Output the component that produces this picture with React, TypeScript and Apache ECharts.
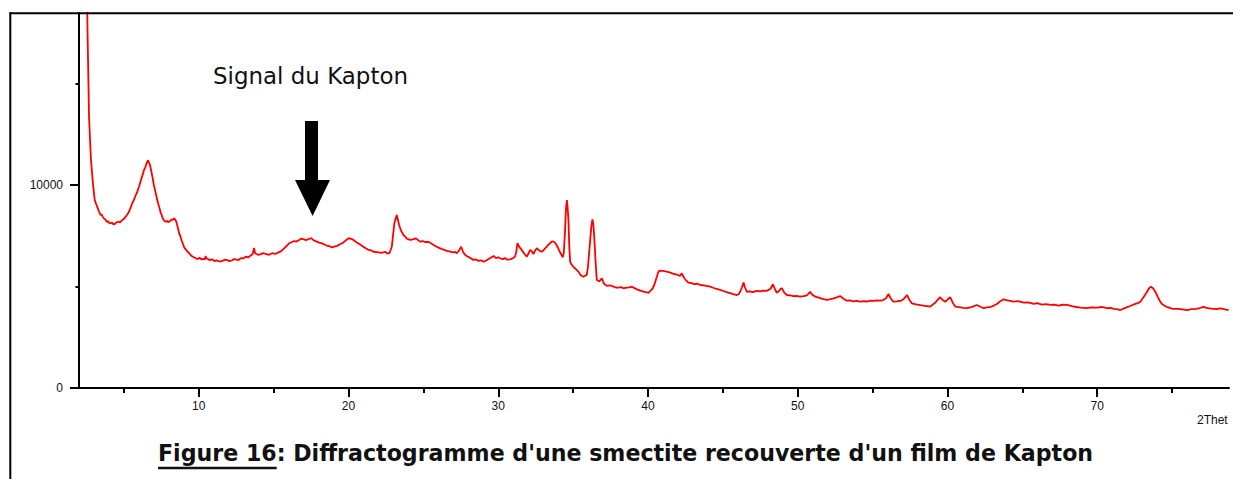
import React, { useEffect, useRef } from "react";
import * as echarts from "echarts";

// [2θ (degrees), intensity (counts)]
const diffractogram: [number, number][] = [
  [2.52, 20000], [2.58, 17140], [2.67, 13350], [2.8, 11230], [2.92, 10150], [3.05, 9260], [3.15, 9050], [3.22, 8920], [3.34, 8690], [3.45, 8520],
  [3.52, 8540], [3.6, 8410], [3.7, 8330], [3.78, 8280], [3.87, 8180], [3.95, 8220], [4.03, 8110], [4.1, 8120], [4.22, 8140], [4.3, 8060],
  [4.4, 8080], [4.48, 8150], [4.55, 8170], [4.67, 8190], [4.75, 8160], [4.85, 8250], [5.0, 8330], [5.12, 8440], [5.2, 8520], [5.3, 8630],
  [5.45, 8880], [5.56, 9110], [5.65, 9230], [5.75, 9420], [5.88, 9650], [6.01, 9920], [6.1, 10150], [6.18, 10350], [6.26, 10520], [6.34, 10740],
  [6.42, 10850], [6.48, 11000], [6.56, 11150], [6.62, 11220], [6.68, 11080], [6.73, 11020], [6.78, 10850], [6.84, 10640], [6.9, 10410], [7.0, 10000],
  [7.12, 9610], [7.2, 9330], [7.3, 9050], [7.38, 8850], [7.46, 8620], [7.52, 8520], [7.6, 8350], [7.7, 8240], [7.79, 8190], [7.9, 8230],
  [7.95, 8160], [8.01, 8190], [8.1, 8240], [8.2, 8300], [8.28, 8280], [8.35, 8360], [8.42, 8310], [8.5, 8190], [8.6, 7900], [8.68, 7640],
  [8.77, 7480], [8.85, 7280], [8.93, 7120], [9.01, 6960], [9.1, 6850], [9.18, 6780], [9.27, 6690], [9.35, 6640], [9.45, 6560], [9.55, 6480],
  [9.68, 6440], [9.8, 6390], [9.92, 6350], [10.05, 6420], [10.18, 6330], [10.3, 6360], [10.4, 6330], [10.46, 6500], [10.5, 6400], [10.55, 6370],
  [10.75, 6300], [10.9, 6340], [11.05, 6250], [11.2, 6290], [11.4, 6230], [11.57, 6260], [11.75, 6320], [11.9, 6300], [12.05, 6250], [12.2, 6280],
  [12.35, 6350], [12.47, 6340], [12.65, 6300], [12.8, 6400], [12.95, 6380], [13.14, 6470], [13.3, 6430], [13.45, 6520], [13.55, 6560], [13.62, 6650],
  [13.69, 6900], [13.76, 6640], [13.95, 6560], [14.1, 6580], [14.3, 6640], [14.47, 6600], [14.7, 6560], [14.9, 6640], [15.1, 6600], [15.36, 6690],
  [15.5, 6740], [15.7, 6880], [15.85, 6980], [16.03, 7130], [16.2, 7180], [16.35, 7240], [16.5, 7210], [16.7, 7290], [16.85, 7360], [17.0, 7330],
  [17.15, 7280], [17.36, 7340], [17.5, 7380], [17.7, 7260], [17.85, 7220], [18.03, 7160], [18.25, 7120], [18.5, 7030], [18.7, 6990], [18.92, 6930],
  [19.1, 6970], [19.25, 7000], [19.42, 7080], [19.59, 7130], [19.72, 7210], [19.85, 7290], [20.04, 7390], [20.15, 7340], [20.25, 7330], [20.38, 7260],
  [20.5, 7190], [20.75, 7080], [20.99, 6960], [21.15, 6880], [21.3, 6820], [21.5, 6780], [21.66, 6710], [21.9, 6690], [22.2, 6660], [22.45, 6700],
  [22.6, 6620], [22.73, 6640], [22.89, 6960], [23.06, 8110], [23.22, 8520], [23.38, 8030], [23.5, 7760], [23.66, 7540], [23.8, 7440], [23.9, 7350],
  [24.0, 7330], [24.11, 7290], [24.3, 7320], [24.51, 7370], [24.65, 7280], [24.78, 7210], [24.95, 7240], [25.1, 7190], [25.3, 7200], [25.45, 7160],
  [25.65, 7060], [25.89, 6960], [26.05, 6900], [26.2, 6850], [26.4, 6800], [26.56, 6750], [26.8, 6720], [27.0, 6680], [27.12, 6700], [27.23, 6640],
  [27.4, 6800], [27.52, 6960], [27.65, 6700], [27.79, 6550], [27.95, 6480], [28.1, 6420], [28.34, 6310], [28.5, 6330], [28.7, 6260], [28.85, 6290],
  [29.01, 6220], [29.2, 6280], [29.35, 6350], [29.5, 6420], [29.68, 6500], [29.85, 6400], [30.0, 6440], [30.12, 6390], [30.3, 6350], [30.45, 6400],
  [30.6, 6320], [30.79, 6340], [30.95, 6380], [31.12, 6470], [31.2, 6700], [31.28, 7130], [31.4, 6950], [31.57, 6800], [31.75, 6600], [31.91, 6470],
  [32.0, 6600], [32.13, 6800], [32.25, 6720], [32.35, 6600], [32.45, 6750], [32.57, 6880], [32.7, 6800], [32.8, 6740], [32.91, 6710], [33.05, 6820],
  [33.24, 6960], [33.35, 7060], [33.45, 7120], [33.55, 7200], [33.64, 7230], [33.72, 7200], [33.8, 7150], [33.88, 7050], [33.95, 6960], [34.05, 6800],
  [34.15, 6650], [34.25, 6520], [34.31, 6440], [34.38, 6700], [34.46, 7780], [34.52, 8800], [34.58, 9260], [34.63, 8900], [34.69, 8230], [34.74, 7000],
  [34.8, 6220], [34.9, 6080], [35.0, 5980], [35.12, 5900], [35.25, 5810], [35.38, 5700], [35.5, 5560], [35.6, 5520], [35.69, 5480], [35.8, 5530],
  [35.91, 5570], [35.98, 5900], [36.05, 6500], [36.14, 7290], [36.22, 8000], [36.29, 8310], [36.35, 8050], [36.4, 7540], [36.45, 6900], [36.5, 6200],
  [36.58, 5320], [36.66, 5280], [36.75, 5250], [36.84, 5330], [36.92, 5400], [37.0, 5240], [37.05, 5150], [37.15, 5080], [37.25, 5030], [37.45, 5060],
  [37.69, 4990], [37.85, 4950], [38.0, 4940], [38.2, 4970], [38.36, 4910], [38.55, 4940], [38.75, 4960], [38.92, 4990], [39.1, 4920], [39.26, 4860],
  [39.5, 4800], [39.7, 4750], [39.85, 4720], [40.03, 4690], [40.15, 4780], [40.32, 4910], [40.45, 5150], [40.59, 5480], [40.68, 5700], [40.76, 5780],
  [41.0, 5770], [41.25, 5730], [41.5, 5680], [41.7, 5620], [41.9, 5590], [42.14, 5520], [42.2, 5600], [42.26, 5650], [42.35, 5500], [42.45, 5380],
  [42.58, 5270], [42.7, 5190], [42.9, 5170], [43.1, 5120], [43.3, 5140], [43.48, 5070], [43.7, 5060], [43.9, 5030], [44.15, 4990], [44.3, 4950],
  [44.5, 4900], [44.65, 4870], [44.82, 4830], [45.0, 4790], [45.2, 4730], [45.35, 4700], [45.49, 4670], [45.7, 4620], [45.93, 4580], [46.05, 4620],
  [46.15, 4740], [46.27, 4950], [46.38, 5190], [46.48, 4950], [46.6, 4740], [46.8, 4760], [47.0, 4720], [47.27, 4780], [47.5, 4760], [47.7, 4800],
  [47.9, 4780], [48.05, 4830], [48.2, 4900], [48.34, 5110], [48.47, 4880], [48.6, 4690], [48.75, 4780], [48.85, 4880], [48.94, 4910], [49.1, 4700],
  [49.27, 4580], [49.5, 4560], [49.7, 4530], [49.9, 4540], [50.16, 4500], [50.4, 4520], [50.6, 4560], [50.72, 4650], [50.83, 4740], [50.95, 4600],
  [51.17, 4500], [51.4, 4450], [51.6, 4400], [51.94, 4340], [52.2, 4380], [52.4, 4420], [52.6, 4460], [52.83, 4530], [53.05, 4400], [53.28, 4300],
  [53.5, 4320], [53.7, 4270], [53.95, 4290], [54.17, 4250], [54.4, 4280], [54.6, 4260], [54.85, 4300], [55.06, 4290], [55.3, 4310], [55.5, 4300],
  [55.7, 4330], [55.9, 4420], [56.06, 4630], [56.2, 4420], [56.39, 4250], [56.6, 4270], [56.9, 4300], [57.1, 4400], [57.29, 4580], [57.45, 4350],
  [57.62, 4170], [57.9, 4120], [58.2, 4080], [58.5, 4050], [58.85, 4010], [59.0, 4100], [59.18, 4200], [59.35, 4350], [59.51, 4470], [59.68, 4330],
  [59.85, 4250], [60.0, 4350], [60.18, 4470], [60.35, 4200], [60.52, 4010], [60.8, 3980], [61.05, 3950], [61.3, 3930], [61.6, 3980], [61.96, 4090],
  [62.2, 4000], [62.41, 3930], [62.65, 3970], [62.9, 4000], [63.1, 4060], [63.3, 4140], [63.5, 4260], [63.75, 4370], [64.0, 4320], [64.2, 4290],
  [64.41, 4250], [64.7, 4280], [65.1, 4200], [65.4, 4220], [65.75, 4140], [66.0, 4180], [66.3, 4110], [66.6, 4130], [66.86, 4090], [67.15, 4110],
  [67.4, 4060], [67.7, 4100], [67.98, 4090], [68.3, 4030], [68.6, 3990], [68.9, 3960], [69.31, 3930], [69.6, 3970], [70.0, 3960], [70.3, 3990],
  [70.65, 3930], [70.9, 3950], [71.1, 3900], [71.3, 3880], [71.54, 3840], [71.8, 3920], [72.0, 3980], [72.21, 4040], [72.5, 4130], [72.7, 4180],
  [72.88, 4250], [73.1, 4480], [73.33, 4740], [73.45, 4900], [73.59, 4990], [73.72, 4920], [73.88, 4740], [74.05, 4480], [74.21, 4250], [74.35, 4120],
  [74.5, 4050], [74.7, 3980], [74.88, 3930], [75.1, 3900], [75.4, 3900], [75.7, 3870], [75.99, 3840], [76.3, 3880], [76.6, 3900], [76.85, 3940],
  [77.1, 4000], [77.3, 3950], [77.5, 3920], [77.75, 3900], [77.99, 3880], [78.2, 3920], [78.4, 3900], [78.6, 3860], [78.77, 3840],
];

const xMajorTicks = [10, 20, 30, 40, 50, 60, 70];
const xMinorTicks = [5, 15, 25, 35, 45, 55, 65, 75];
const yMajorTicks = [0, 10000];
const yMinorTicks = [5000, 15000];
const xAxisName = "2Thet";
const annotationText = "Signal du Kapton";
const captionLead = "Figure 16";
const captionRest = ": Diffractogramme d'une smectite recouverte d'un film de Kapton";

function measure(text: string, font: string): number {
  const ctx = document.createElement("canvas").getContext("2d");
  if (!ctx) return text.length * 10;
  ctx.font = font;
  return ctx.measureText(text).width;
}

export default function App() {
  const ref = useRef<HTMLDivElement>(null);

  useEffect(() => {
    if (!ref.current) return;
    const chart = echarts.init(ref.current, null, { renderer: "svg" });

    const fam = '"DejaVu Sans", sans-serif';
    const annLeft = 213, annRight = 408;
    const annSize = 20 * (annRight - annLeft) / measure(annotationText, `20px ${fam}`);
    const capLeft = 158, capRight = 1094;
    const capFull = captionLead + captionRest;
    const capSize = 20 * (capRight - capLeft) / measure(capFull, `bold 20px ${fam}`);
    const leadW = measure(captionLead, `bold ${capSize}px ${fam}`);

    const labelFont = { fontFamily: '"Liberation Sans", Arial, sans-serif', fontSize: 12, color: "#111" };

    chart.setOption({
      animation: false,
      backgroundColor: "#fff",
      grid: { left: 79, top: 13, width: 1150, height: 375, containLabel: false },
      xAxis: [
        {
          type: "value", min: 2, max: 78.8, position: "bottom",
          axisLine: { show: true, onZero: false, lineStyle: { color: "#000", width: 2 } },
          axisTick: { show: true, customValues: xMajorTicks, length: 9, lineStyle: { color: "#000", width: 2 } },
          axisLabel: { show: true, customValues: xMajorTicks, margin: 12, formatter: (v: number) => String(v), ...labelFont },
          splitLine: { show: false },
        },
        {
          type: "value", min: 2, max: 78.8, position: "bottom",
          axisLine: { show: false, onZero: false },
          axisTick: { show: true, customValues: xMinorTicks, length: 5, lineStyle: { color: "#000", width: 2 } },
          axisLabel: { show: false },
          splitLine: { show: false },
        },
      ],
      yAxis: [
        {
          type: "value", min: 0, max: 18470, position: "left",
          axisLine: { show: true, onZero: false, lineStyle: { color: "#000", width: 2 } },
          axisTick: { show: true, customValues: yMajorTicks, length: 9, lineStyle: { color: "#000", width: 2 } },
          axisLabel: { show: true, customValues: yMajorTicks, margin: 16, formatter: (v: number) => String(v), ...labelFont },
          splitLine: { show: false },
        },
        {
          type: "value", min: 0, max: 18470, position: "left",
          axisLine: { show: false, onZero: false },
          axisTick: { show: true, customValues: yMinorTicks, length: 3.5, lineStyle: { color: "#000", width: 2 } },
          axisLabel: { show: false },
          splitLine: { show: false },
        },
      ],
      series: [
        {
          type: "line",
          xAxisIndex: 0,
          yAxisIndex: 0,
          data: diffractogram,
          showSymbol: false,
          clip: true,
          lineStyle: { color: "#ff0000", width: 1.8 },
        },
      ],
      graphic: [
        { type: "line", shape: { x1: 9.5, y1: 13.3, x2: 1233, y2: 13.3 }, style: { stroke: "#000", lineWidth: 2 }, z: 10 },
        { type: "line", shape: { x1: 10.3, y1: 12.3, x2: 10.3, y2: 479 }, style: { stroke: "#000", lineWidth: 2 }, z: 10 },
        { type: "rect", shape: { x: 305, y: 121, width: 13, height: 59 }, style: { fill: "#000" }, z: 10 },
        { type: "polygon", shape: { points: [[295, 180], [330, 180], [312.6, 216]] }, style: { fill: "#000" }, z: 10 },
        {
          type: "text", x: annLeft, y: 76.4, z: 10,
          style: { text: annotationText, fontFamily: fam, fontSize: annSize, fill: "#111", align: "left", verticalAlign: "middle" },
        },
        {
          type: "text", x: capLeft, y: 452.8, z: 10,
          style: { text: capFull, fontFamily: fam, fontWeight: "bold", fontSize: capSize, fill: "#111", align: "left", verticalAlign: "middle" },
        },
        { type: "line", shape: { x1: capLeft, y1: 468, x2: capLeft + leadW, y2: 468 }, style: { stroke: "#111", lineWidth: 2.5 }, z: 10 },
        {
          type: "text", x: 1197, y: 420, z: 10,
          style: { text: xAxisName, fontFamily: '"Liberation Sans", Arial, sans-serif', fontSize: 12, fill: "#111", align: "left", verticalAlign: "middle" },
        },
      ],
    });

    return () => chart.dispose();
  }, []);

  return <div ref={ref} style={{ position: "absolute", left: 0, top: 0, width: 1233, height: 479 }} />;
}
